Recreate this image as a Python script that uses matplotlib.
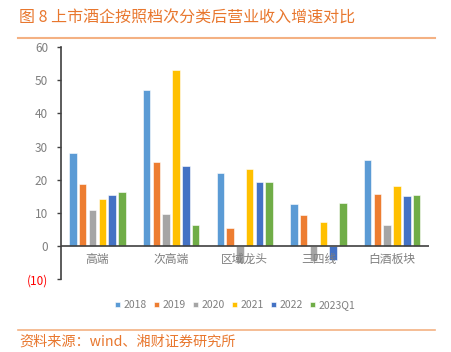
import matplotlib
matplotlib.use("Agg")
import matplotlib.pyplot as plt
import numpy as np

plt.rcParams['font.family'] = ['Noto Sans CJK SC', 'DejaVu Sans']

categories = ['高端', '次高端', '区域龙头', '三四线', '白酒板块']
series_names = ['2018', '2019', '2020', '2021', '2022', '2023Q1']
v2018 = [28.0, 47.2, 21.9, 12.8, 26.0]
v2019 = [18.6, 25.3, 5.3, 9.5, 15.6]
v2020 = [11.0, 9.8, -5.0, -4.5, 6.3]
v2021 = [14.1, 53.2, 23.3, 7.3, 18.1]
v2022 = [15.3, 24.2, 19.4, -4.2, 15.2]
v2023q1 = [16.4, 6.3, 19.4, 13.0, 15.4]
series = [v2018, v2019, v2020, v2021, v2022, v2023q1]
colors = ['#5B9BD5', '#ED7D31', '#A5A5A5', '#FFC000', '#4472C4', '#70AD47']
yticks = [-10, 0, 10, 20, 30, 40, 50, 60]
ytick_labels = ['(10)', '0', '10', '20', '30', '40', '50', '60']

fig = plt.figure(figsize=(4.52, 3.52), dpi=100)
ax = fig.add_axes([0.134, 0.207, 0.815, 0.659])

x = np.arange(len(categories))
pitch = 0.133
width = 0.102
for i, (vals, c, name) in enumerate(zip(series, colors, series_names)):
    ax.bar(x + (i - 2.5) * pitch, vals, width, color=c, label=name,
           edgecolor='white', linewidth=0.4, zorder=2)

ax.set_xlim(-0.5, len(categories) - 0.5)
ax.set_ylim(-10, 60)
ax.axhline(0, color='#404040', linewidth=1.2, zorder=3)
ax.set_yticks(yticks)
ax.set_yticklabels(ytick_labels)
for lab in ax.get_yticklabels():
    lab.set_color('#7F7F7F')
ax.get_yticklabels()[0].set_color('#FF0000')
ax.tick_params(axis='y', labelsize=8.5, length=3, width=1, color='#404040', pad=6)

ax.set_xticks([])
for xi, cat in zip(x, categories):
    ax.text(xi, -2.2, cat, ha='center', va='top', fontsize=8.5, color='#7F7F7F', zorder=5)

for s in ['top', 'right', 'bottom']:
    ax.spines[s].set_visible(False)
ax.spines['left'].set_color('#404040')
ax.spines['left'].set_linewidth(1.2)

handles, labels = ax.get_legend_handles_labels()
leg = fig.legend(handles, labels, loc='center', bbox_to_anchor=(0.52, 0.133), ncol=6,
                 frameon=False, fontsize=7.5, handlelength=0.5, handleheight=0.5,
                 columnspacing=0.7, handletextpad=0.3)
for t in leg.get_texts():
    t.set_color('#7F7F7F')

fig.text(0.042, 0.948, '图 8 上市酒企按照档次分类后营业收入增速对比', fontsize=11.5,
         color='#E8772E', va='center', ha='left')
fig.add_artist(plt.Line2D([0.04, 0.963], [0.893, 0.893], color='#F4B183', linewidth=1.5,
                          transform=fig.transFigure))
fig.add_artist(plt.Line2D([0.04, 0.963], [0.062, 0.062], color='#F4B183', linewidth=1.2,
                          transform=fig.transFigure))
fig.text(0.042, 0.03, '资料来源：wind、湘财证券研究所', fontsize=10.2,
         color='#E8772E', va='center', ha='left')

fig.savefig('out.png', dpi=100)
